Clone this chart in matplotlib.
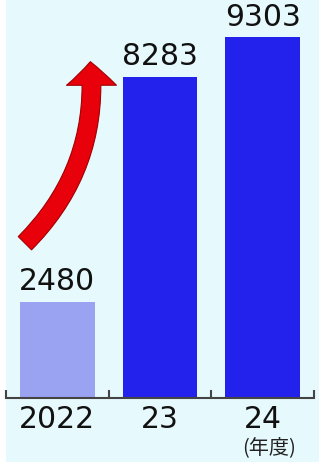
import matplotlib.pyplot as plt
import matplotlib.patches as mpatches

# ----------------------------
# Data
# ----------------------------
years = ["2022", "23", "24"]
values = [2480, 8283, 9303]
bar_colors = ["#9aa2f2", "#2222ec", "#2222ec"]

plt.rcParams['font.family'] = ['DejaVu Sans', 'Noto Sans CJK JP']

# ----------------------------
# Figure
# ----------------------------
fig = plt.figure(figsize=(3.24, 4.66), dpi=100, facecolor="white")

# light cyan panel (white strip on left / bottom)
fig.patches.append(mpatches.Rectangle(
    (6 / 324, 4 / 466), 313 / 324, 462 / 466,
    transform=fig.transFigure, facecolor="#e6f9fc", edgecolor="none", zorder=-1))

ax = fig.add_axes([6 / 324, 68 / 466, 308 / 324, 398 / 466])
ax.set_facecolor("none")

x = list(range(len(years)))
bars = ax.bar(x, values, width=0.73, color=bar_colors, zorder=2)

ax.set_xlim(-0.5, 2.5)
ax.set_ylim(0, 10260)

# value labels
for b, v in zip(bars, values):
    ax.annotate(f"{v}", (b.get_x() + b.get_width() / 2, v),
                xytext=(0, 4), textcoords="offset points",
                ha="center", va="bottom", fontsize=21.5, color="#111111")

# ----------------------------
# Axes styling
# ----------------------------
for s in ["top", "left", "right"]:
    ax.spines[s].set_visible(False)
ax.spines["bottom"].set_color("#444444")
ax.spines["bottom"].set_linewidth(1.5)
ax.spines["bottom"].set_zorder(3)

ax.set_yticks([])
ax.set_xticks(x)
ax.set_xticklabels(years, fontsize=21.5, color="#111111")
ax.tick_params(axis="x", which="major", length=0, pad=5)
ax.set_xticks([-0.5, 0.5, 1.5, 2.5], minor=True)
ax.tick_params(axis="x", which="minor", direction="in", length=6,
               width=1.5, color="#444444")

ax.text(2.06, -0.098, "(年度)", transform=ax.get_xaxis_transform(),
        ha="center", va="top", fontsize=14.5, color="#222222",
        family=['Noto Sans CJK JP', 'DejaVu Sans'])

# ----------------------------
# Red growth arrow
# ----------------------------
arrow = mpatches.FancyArrowPatch(
    (0.055, 0.384), (0.273, 0.852),
    transform=ax.transAxes,
    connectionstyle="arc3,rad=0.24",
    arrowstyle=mpatches.ArrowStyle.Simple(head_length=1.7, head_width=3.6,
                                          tail_width=1.35),
    mutation_scale=10,
    facecolor="#e8000b", edgecolor="#a00000", linewidth=0.8, zorder=4)
ax.add_patch(arrow)

plt.savefig("out.png", dpi=100)
